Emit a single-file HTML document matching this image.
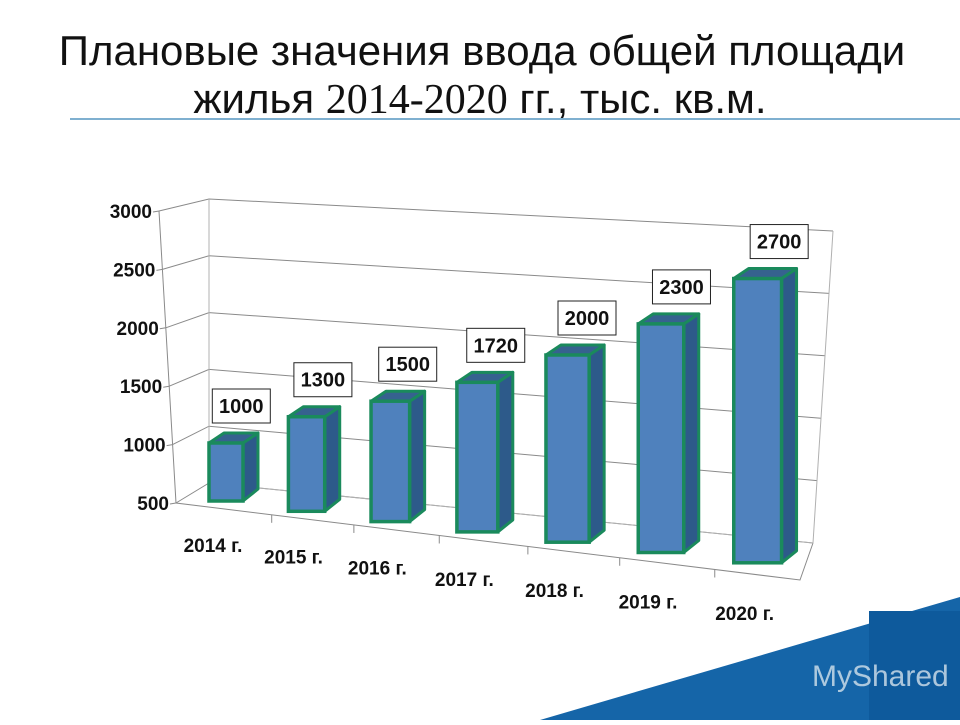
<!DOCTYPE html>
<html><head><meta charset="utf-8"><style>
body{margin:0;width:960px;height:720px;overflow:hidden;background:#fff;font-family:"Liberation Sans",sans-serif}
</style></head><body>
<svg width="960" height="720" viewBox="0 0 960 720">
<polygon points="540,720 960,597 960,720" fill="#1565a8"/>
<rect x="869" y="611" width="91" height="109" fill="#0e5a9c"/>
<text x="812" y="686" font-size="30" fill="#d4e2ec" opacity="0.8" font-family="Liberation Sans, sans-serif">MyShared</text>
<text x="482" y="65" text-anchor="middle" font-size="42" fill="#111">Плановые значения ввода общей площади</text>
<text x="480" y="113" text-anchor="middle" font-size="42" fill="#111">жилья <tspan font-family="Liberation Serif, serif">2014-2020</tspan> гг., тыс. кв.м.</text>
<line x1="70" y1="119" x2="960" y2="119" stroke="#7fb0d0" stroke-width="2"/>
<g id="chart"></g>
</svg>
<script>
const categories=["2014 г.","2015 г.","2016 г.","2017 г.","2018 г.","2019 г.","2020 г."];
const values=[1000,1300,1500,1720,2000,2300,2700];
const yTicks=[500,1000,1500,2000,2500,3000];
const NS="http://www.w3.org/2000/svg";
const g=document.getElementById("chart");
function mk(t,a,p){const e=document.createElementNS(NS,t);for(const k in a)e.setAttribute(k,a[k]);(p||g).appendChild(e);return e;}
const lerp=(a,b,t)=>a+(b-a)*t;
function vt(v){return (v-500)/2500;}
yTicks.forEach(v=>{
  const t=vt(v);
  const fx=lerp(176,159,t), fy=lerp(503,211,t);
  const bx=209, by=lerp(483,199,t);
  const rx=lerp(813,833,t), ry=lerp(543,231,t);
  const l=mk("polyline",{points:`${fx},${fy} ${bx},${by} ${rx},${ry}`,fill:"none",stroke:"#8a8a8a","stroke-width":1});
  
  
  const tk=mk("line",{x1:fx-6,y1:fy+1,x2:fx,y2:fy,stroke:"#8a8a8a"});
  
  
  const tx=mk("text",{x:fx-7,y:fy+7,"text-anchor":"end","font-size":19,"font-weight":"bold",fill:"#111"});
  tx.textContent=v;
  
  
});
const ax=mk("polyline",{points:"159,211 176,503 800,580 813,543",fill:"none",stroke:"#8a8a8a"});


const bw=mk("polyline",{points:"209,199 209,483 813,543 833,231",fill:"none",stroke:"#b0b0b0"});


function xLeft(i){return 209+77.8*i+1.61*i*i;}
categories.forEach((c,i)=>{
  const xl=xLeft(i), w=34+i*2.3, side=15, dep=10;
  const bottom=501+i*10.3, scale=0.116+0.0022*i;
  const top=bottom-(values[i]-500)*scale;
  const bg=mk("g",{});
  
  
  mk("polygon",{points:`${xl+w},${top} ${xl+w+side},${top-dep} ${xl+w+side},${bottom-dep-2} ${xl+w},${bottom}`,fill:"#2d5a8a",stroke:"#1a8a5c","stroke-width":3,"stroke-linejoin":"round"},bg);
  mk("polygon",{points:`${xl},${top} ${xl+side},${top-dep} ${xl+w+side},${top-dep} ${xl+w},${top}`,fill:"#36628f",stroke:"#1a8a5c","stroke-width":3,"stroke-linejoin":"round"},bg);
  mk("rect",{x:xl,y:top,width:w,height:bottom-top,fill:"#4f81bd",stroke:"#1a8a5c","stroke-width":3.5},bg);
  const tx0=xLeft(i)+w+ (xLeft(i+1)-xLeft(i)-w)/2+6;
  if(i<categories.length-1){
    const ty=lerp(503,580,(tx0-176)/624);
    const t=mk("line",{x1:tx0,y1:ty,x2:tx0,y2:ty+8,stroke:"#8a8a8a"});
    
    
  }
  const cl=mk("text",{x:xl+w/2-13,y:bottom+51+i,"text-anchor":"middle","font-size":19,"font-weight":"bold",fill:"#111"});
  cl.textContent=c;
  
  
  const lx=xl+w*0.95, ly=top-37;
  const lg=mk("g",{});
  
  
  mk("rect",{x:lx-29,y:ly-17,width:58,height:34,fill:"#fff",stroke:"#222","stroke-width":1},lg);
  const lt=mk("text",{x:lx,y:ly+7,"text-anchor":"middle","font-size":20,"font-weight":"bold",fill:"#111"},lg);
  lt.textContent=values[i];
});
</script>
</body></html>
